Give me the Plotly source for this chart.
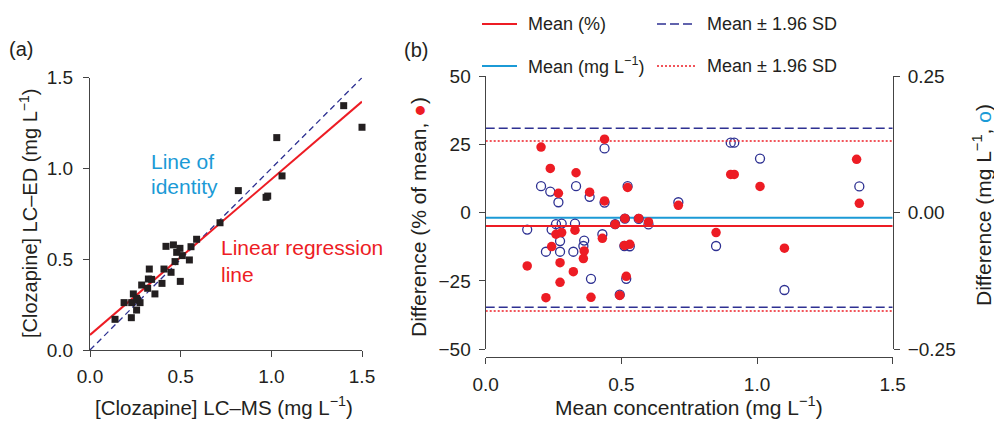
import plotly.graph_objects as go

# ---------------- data ----------------
# Panel (a): LC-MS vs LC-ED clozapine concentrations (mg/L)
lcms = [0.138, 0.228, 0.257, 0.188, 0.239, 0.230, 0.276, 0.257, 0.262, 0.285,
        0.318, 0.327, 0.322, 0.340, 0.358, 0.397, 0.408, 0.447, 0.498, 0.469,
        0.509, 0.478, 0.419, 0.460, 0.496, 0.548, 0.557, 0.588, 0.717, 0.818,
        0.971, 0.980, 1.030, 1.059, 1.399, 1.500]
lced = [0.169, 0.178, 0.220, 0.261, 0.309, 0.261, 0.261, 0.285, 0.275, 0.358,
        0.340, 0.446, 0.391, 0.389, 0.309, 0.367, 0.446, 0.428, 0.378, 0.487,
        0.520, 0.538, 0.571, 0.579, 0.560, 0.496, 0.569, 0.610, 0.701, 0.878,
        0.841, 0.848, 1.170, 0.959, 1.346, 1.227]
reg_intercept = 0.083
reg_slope = 0.857
line_x = [0.0, 1.5]

# Panel (b): Bland-Altman
ba_mean = [0.153, 0.204, 0.222, 0.238, 0.243, 0.259, 0.268, 0.280, 0.274, 0.274,
           0.323, 0.329, 0.333, 0.360, 0.363, 0.383, 0.388, 0.430, 0.438, 0.438,
           0.477, 0.494, 0.511, 0.513, 0.518, 0.523, 0.531, 0.564, 0.600, 0.710,
           0.849, 0.903, 0.916, 1.011, 1.101, 1.367, 1.377]
diff_pct = [-19.5, 24.0, -31.1, 16.2, -12.4, -7.9, 7.1, -7.3, -18.3, -25.5,
            -21.6, -6.4, 14.6, -16.8, -14.0, 7.5, -31.0, -9.4, 26.9, 4.3,
            -4.3, -30.3, -12.0, -2.1, -23.3, 9.2, -11.6, -2.1, -3.4, 2.7,
            -7.3, 14.0, 14.0, 9.6, -13.0, 19.5, 3.4]
diff_mg = [-0.031, 0.0485, -0.0715, 0.0385, -0.031, -0.021, 0.019, -0.020, -0.052, -0.0715,
           -0.0715, -0.020, 0.0485, -0.061, -0.051, 0.029, -0.121, -0.0395, 0.1175, 0.0185,
           -0.021, -0.150, -0.061, -0.011, -0.121, 0.0485, -0.0615, -0.0115, -0.0215, 0.019,
           -0.061, 0.128, 0.128, 0.099, -0.1415, 0.273, 0.048]
mean_pct, sd196_pct = -4.9, 31.1
mean_mg, sd196_mg = -0.0095, 0.1637

# ---------------- style ----------------
FONT = "Liberation Sans, Arial, Helvetica, sans-serif"
TXT = "#231f20"
RED = "#ed1c24"
CYAN = "#1b9ad6"
NAVY = "#2e3192"
W, H = 994, 421

def px(x):
    return x / W

def py(y):
    return 1 - y / H

fig = go.Figure()

# ---- panel (a) ----
fig.add_trace(go.Scatter(x=line_x, y=line_x, mode="lines",
                         line=dict(color=NAVY, width=1.3, dash="6px,4px"),
                         xaxis="x", yaxis="y", showlegend=False, hoverinfo="skip"))
fig.add_trace(go.Scatter(x=line_x, y=[reg_intercept + reg_slope * v for v in line_x],
                         mode="lines", line=dict(color=RED, width=2),
                         xaxis="x", yaxis="y", showlegend=False, hoverinfo="skip"))
fig.add_trace(go.Scatter(x=lcms, y=lced, mode="markers",
                         marker=dict(symbol="square", size=7, color=TXT),
                         xaxis="x", yaxis="y", showlegend=False, cliponaxis=False))

# ---- panel (b) ----
# mg-based lines / circles on y2 (right axis, base)
fig.add_trace(go.Scatter(x=line_x, y=[mean_mg, mean_mg], mode="lines",
                         line=dict(color=CYAN, width=2), xaxis="x2", yaxis="y2",
                         showlegend=False, hoverinfo="skip"))
for s in (1, -1):
    fig.add_trace(go.Scatter(x=line_x, y=[mean_mg + s * sd196_mg] * 2, mode="lines",
                             line=dict(color=NAVY, width=1.5, dash="9px,4px"),
                             xaxis="x2", yaxis="y2", showlegend=False, hoverinfo="skip"))
fig.add_trace(go.Scatter(x=ba_mean, y=diff_mg, mode="markers",
                         marker=dict(symbol="circle-open", size=9, color=NAVY,
                                     line=dict(width=1.3, color=NAVY)),
                         xaxis="x2", yaxis="y2", showlegend=False))
# %-based lines / dots on y3 (left axis, overlaying)
fig.add_trace(go.Scatter(x=line_x, y=[mean_pct, mean_pct], mode="lines",
                         line=dict(color=RED, width=2), xaxis="x2", yaxis="y3",
                         showlegend=False, hoverinfo="skip"))
for s in (1, -1):
    fig.add_trace(go.Scatter(x=line_x, y=[mean_pct + s * sd196_pct] * 2, mode="lines",
                             line=dict(color=RED, width=1.5, dash="2px,2px"),
                             xaxis="x2", yaxis="y3", showlegend=False, hoverinfo="skip"))
fig.add_trace(go.Scatter(x=ba_mean, y=diff_pct, mode="markers",
                         marker=dict(symbol="circle", size=9.5, color=RED),
                         xaxis="x2", yaxis="y3", showlegend=False))

axis_common = dict(showgrid=False, zeroline=False, showline=True, linecolor="#444",
                   linewidth=1.3, ticks="outside", ticklen=6, tickwidth=1.3,
                   tickcolor="#444", automargin=False,
                   tickfont=dict(family=FONT, size=19, color=TXT))

fig.update_layout(
    width=W, height=H, margin=dict(l=0, r=0, t=0, b=0, autoexpand=False),
    paper_bgcolor="white", plot_bgcolor="white", showlegend=False,
    font=dict(family=FONT, color=TXT, size=18),
    xaxis=dict(axis_common, domain=[px(90), px(362)], range=[0, 1.5],
               tickvals=[0, 0.5, 1.0, 1.5], tickformat=".1f", anchor="y",
               ticklabelstandoff=3),
    yaxis=dict(axis_common, domain=[py(350), py(77.7)], range=[0, 1.5],
               tickvals=[0, 0.5, 1.0, 1.5], tickformat=".1f", anchor="x",
               ticklabelstandoff=6),
    xaxis2=dict(axis_common, domain=[px(485.7), px(892.7)], range=[0, 1.5],
                tickvals=[0, 0.5, 1.0, 1.5], tickformat=".1f", anchor="free",
                position=py(356.7), ticklabelstandoff=4),
    yaxis2=dict(axis_common, domain=[py(349.3), py(76)], range=[-0.25, 0.25],
                tickvals=[-0.25, 0, 0.25], tickformat=".2f", anchor="x2",
                side="right", ticklabelstandoff=4),
    yaxis3=dict(axis_common, range=[-50, 50], tickvals=[-50, -25, 0, 25, 50],
                anchor="x2", overlaying="y2", side="left", ticklabelstandoff=4),
)

ann = []
def text(x, y, t, size=18, color=TXT, angle=0, xanchor="center", yanchor="middle"):
    ann.append(dict(x=px(x), y=py(y), xref="paper", yref="paper", text=t,
                    showarrow=False, textangle=angle, xanchor=xanchor, yanchor=yanchor,
                    font=dict(family=FONT, size=size, color=color)))

text(21, 49, "(a)", size=20)
text(416, 50, "(b)", size=20)
text(224, 421, "[Clozapine] LC–MS (mg L<sup>−1</sup>)", size=20.5, yanchor="bottom")
text(28, 214, "[Clozapine] LC–ED (mg L<sup>−1</sup>)", size=20, angle=-90)
text(689, 421, "Mean concentration (mg L<sup>−1</sup>)", size=21, yanchor="bottom")
text(418, 217, "Difference (% of mean, <span style='color:" + RED + "'>●</span>)", size=21, angle=-90)
text(982, 205, "Difference (mg L<sup>−1</sup>, <span style='color:" + CYAN + "'>o</span>)", size=21, angle=-90)
text(149, 162, "Line of", size=21, color=CYAN, xanchor="left")
text(149, 187, "identity", size=21, color=CYAN, xanchor="left")
text(219, 248, "Linear regression", size=21, color=RED, xanchor="left")
text(219, 274, "line", size=21, color=RED, xanchor="left")

# legend (manual)
text(526, 24, "Mean (%)", size=18, xanchor="left")
text(705, 24, "Mean ± 1.96 SD", size=18, xanchor="left")
text(526, 66, "Mean (mg L<sup>−1</sup>)", size=18, xanchor="left")
text(705, 66, "Mean ± 1.96 SD", size=18, xanchor="left")
fig.update_layout(annotations=ann)

shapes = [
    dict(type="line", xref="paper", yref="paper", x0=px(482), x1=px(517), y0=py(24), y1=py(24),
         line=dict(color=RED, width=2)),
    dict(type="line", xref="paper", yref="paper", x0=px(657), x1=px(696), y0=py(24), y1=py(24),
         line=dict(color=NAVY, width=1.5, dash="9px,4px")),
    dict(type="line", xref="paper", yref="paper", x0=px(482), x1=px(517), y0=py(66), y1=py(66),
         line=dict(color=CYAN, width=2)),
    dict(type="line", xref="paper", yref="paper", x0=px(657), x1=px(696), y0=py(66), y1=py(66),
         line=dict(color=RED, width=1.5, dash="2px,2px")),
]
fig.update_layout(shapes=shapes)

fig.write_html("out.html")
